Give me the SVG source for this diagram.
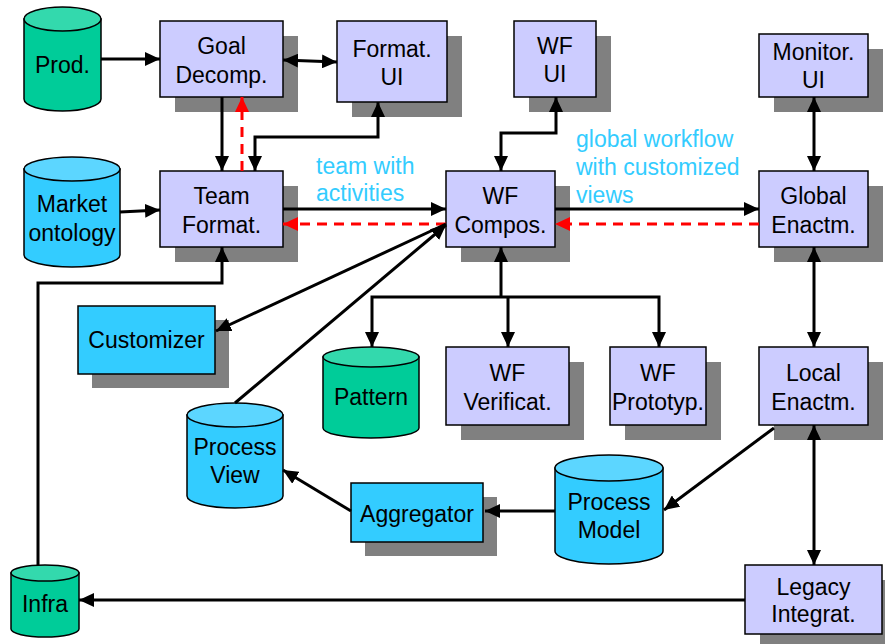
<svg xmlns="http://www.w3.org/2000/svg" width="885" height="644" viewBox="0 0 885 644">
  <defs>
    <style>
      .box { fill: #CCCCFF; stroke: #000; stroke-width: 1.5; }
      .blue { fill: #33CCFF; stroke: #000; stroke-width: 1.5; }
      .shadow { fill: #808080; }
      .cyl-green { fill: #00CC99; stroke: #000; stroke-width: 1.5; }
      .cyl-green-top { fill: #33D9AD; stroke: #000; stroke-width: 1.5; }
      .cyl-blue { fill: #33CCFF; stroke: #000; stroke-width: 1.5; }
      .cyl-blue-top { fill: #5CD6FF; stroke: #000; stroke-width: 1.5; }
      text { font-family: "Liberation Sans", Arial, sans-serif; font-size: 23px; fill: #000; }
      .c { text-anchor: middle; }
      .note { fill: #33CCFF; }
      .wire { fill: none; stroke: #000; stroke-width: 3; }
      .dash { fill: none; stroke: #FF0000; stroke-width: 3; stroke-dasharray: 10 7; }
    </style>
    <marker id="ah" markerUnits="userSpaceOnUse" markerWidth="15" markerHeight="14" refX="15" refY="7" orient="auto-start-reverse">
      <path d="M0,0 L15,7 L0,14 Z" fill="#000"/>
    </marker>
    <marker id="ahr" markerUnits="userSpaceOnUse" markerWidth="15" markerHeight="14" refX="15" refY="7" orient="auto-start-reverse">
      <path d="M0,0 L15,7 L0,14 Z" fill="#FF0000"/>
    </marker>
  </defs>

  <rect width="885" height="644" fill="#fff"/>

  <!-- stores (cylinders) -->
  <g id="prod">
    <path class="cyl-green" d="M24,19 V99 A38.5,12 0 0 0 101,99 V19 Z"/>
    <ellipse class="cyl-green-top" cx="62.5" cy="19" rx="38.5" ry="12"/>
    <text class="c" x="62.5" y="73">Prod.</text>
  </g>
  <g id="market">
    <path class="cyl-blue" d="M24,169 V255 A48,12 0 0 0 120,255 V169 Z"/>
    <ellipse class="cyl-blue-top" cx="72" cy="169" rx="48" ry="12"/>
    <text class="c" x="72" y="212">Market</text>
    <text class="c" x="72" y="241">ontology</text>
  </g>
  <g id="pattern">
    <path class="cyl-green" d="M323,357 V428 A48,10 0 0 0 419,428 V357 Z"/>
    <ellipse class="cyl-green-top" cx="371" cy="357" rx="48" ry="10"/>
    <text class="c" x="371" y="405">Pattern</text>
  </g>
  <g id="process-view">
    <path class="cyl-blue" d="M187,415 V496 A48,12 0 0 0 283,496 V415 Z"/>
    <ellipse class="cyl-blue-top" cx="235" cy="415" rx="48" ry="12"/>
    <text class="c" x="235" y="455">Process</text>
    <text class="c" x="235" y="483">View</text>
  </g>
  <g id="process-model">
    <path class="cyl-blue" d="M555,468 V551 A54,13 0 0 0 663,551 V468 Z"/>
    <ellipse class="cyl-blue-top" cx="609" cy="468" rx="54" ry="13"/>
    <text class="c" x="609" y="510">Process</text>
    <text class="c" x="609" y="538">Model</text>
  </g>
  <g id="infra">
    <path class="cyl-green" d="M11,573 V629 A34,8 0 0 0 79,629 V573 Z"/>
    <ellipse class="cyl-green-top" cx="45" cy="573" rx="34" ry="8"/>
    <text class="c" x="45" y="612">Infra</text>
  </g>

  <!-- components (boxes with drop shadows) -->
  <g id="goal-decomp">
    <rect class="shadow" x="175" y="36" width="123" height="76"/>
    <rect class="box" x="160" y="21" width="123" height="76"/>
    <text class="c" x="221.5" y="54">Goal</text>
    <text class="c" x="221.5" y="83">Decomp.</text>
  </g>
  <g id="format-ui">
    <rect class="shadow" x="352" y="36" width="110" height="81"/>
    <rect class="box" x="337" y="21" width="110" height="81"/>
    <text class="c" x="392" y="57">Format.</text>
    <text class="c" x="392" y="85">UI</text>
  </g>
  <g id="wf-ui">
    <rect class="shadow" x="529" y="36" width="82" height="76"/>
    <rect class="box" x="514" y="21" width="82" height="76"/>
    <text class="c" x="555" y="54">WF</text>
    <text class="c" x="555" y="82">UI</text>
  </g>
  <g id="monitor-ui">
    <rect class="shadow" x="774" y="49" width="109" height="63"/>
    <rect class="box" x="759" y="34" width="109" height="63"/>
    <text class="c" x="813.5" y="60">Monitor.</text>
    <text class="c" x="813.5" y="88">UI</text>
  </g>
  <g id="team-format">
    <rect class="shadow" x="175" y="186" width="123" height="76"/>
    <rect class="box" x="160" y="171" width="123" height="76"/>
    <text class="c" x="221.5" y="204">Team</text>
    <text class="c" x="221.5" y="233">Format.</text>
  </g>
  <g id="wf-compos">
    <rect class="shadow" x="461" y="186" width="109" height="76"/>
    <rect class="box" x="446" y="171" width="109" height="76"/>
    <text class="c" x="500.5" y="204">WF</text>
    <text class="c" x="500.5" y="233">Compos.</text>
  </g>
  <g id="global-enactm">
    <rect class="shadow" x="774" y="186" width="109" height="76"/>
    <rect class="box" x="759" y="171" width="109" height="76"/>
    <text class="c" x="813.5" y="204">Global</text>
    <text class="c" x="813.5" y="233">Enactm.</text>
  </g>
  <g id="customizer">
    <rect class="shadow" x="92" y="320" width="137" height="68"/>
    <rect class="blue" x="78" y="306" width="137" height="68"/>
    <text class="c" x="146.5" y="348">Customizer</text>
  </g>
  <g id="wf-verificat">
    <rect class="shadow" x="461" y="362" width="123" height="78"/>
    <rect class="box" x="446" y="347" width="123" height="78"/>
    <text class="c" x="507.5" y="381">WF</text>
    <text class="c" x="507.5" y="410">Verificat.</text>
  </g>
  <g id="wf-prototyp">
    <rect class="shadow" x="625" y="362" width="96" height="78"/>
    <rect class="box" x="610" y="347" width="96" height="78"/>
    <text class="c" x="658" y="381">WF</text>
    <text class="c" x="658" y="410">Prototyp.</text>
  </g>
  <g id="local-enactm">
    <rect class="shadow" x="774" y="362" width="109" height="78"/>
    <rect class="box" x="759" y="347" width="109" height="78"/>
    <text class="c" x="813.5" y="381">Local</text>
    <text class="c" x="813.5" y="410">Enactm.</text>
  </g>
  <g id="aggregator">
    <rect class="shadow" x="365" y="497" width="132" height="59"/>
    <rect class="blue" x="351" y="483" width="132" height="59"/>
    <text class="c" x="417" y="522">Aggregator</text>
  </g>
  <g id="legacy-integrat">
    <rect class="shadow" x="760" y="580" width="137" height="69"/>
    <rect class="box" x="745" y="565" width="137" height="69"/>
    <text class="c" x="813.5" y="595">Legacy</text>
    <text class="c" x="813.5" y="622">Integrat.</text>
  </g>

  <!-- connectors -->
  <g id="connectors">
    <path class="wire" d="M101,59 H160" marker-end="url(#ah)"/>
    <path class="wire" d="M283,60 L337,62" marker-start="url(#ah)" marker-end="url(#ah)"/>
    <path class="wire" d="M222,97 V171" marker-end="url(#ah)"/>
    <path class="dash" d="M242,171 V97" marker-end="url(#ahr)"/>
    <path class="wire" d="M255,171 V137 H378 V102" marker-start="url(#ah)" marker-end="url(#ah)"/>
    <path class="wire" d="M120,212 L160,210" marker-end="url(#ah)"/>
    <path class="wire" d="M283,209 H446" marker-end="url(#ah)"/>
    <path class="dash" d="M446,224 H283" marker-end="url(#ahr)"/>
    <path class="wire" d="M501,171 V133 H556 V97" marker-start="url(#ah)" marker-end="url(#ah)"/>
    <path class="wire" d="M555,209 H759" marker-end="url(#ah)"/>
    <path class="dash" d="M759,224 H555" marker-end="url(#ahr)"/>
    <path class="wire" d="M814,97 V171" marker-start="url(#ah)" marker-end="url(#ah)"/>
    <path class="wire" d="M814,247 V347" marker-start="url(#ah)" marker-end="url(#ah)"/>
    <path class="wire" d="M814,425 V565" marker-start="url(#ah)" marker-end="url(#ah)"/>
    <path class="wire" d="M774,428 L664,510" marker-end="url(#ah)"/>
    <path class="wire" d="M555,511 H485" marker-end="url(#ah)"/>
    <path class="wire" d="M351,511 L283,470" marker-end="url(#ah)"/>
    <path class="wire" d="M745,600 H79" marker-end="url(#ah)"/>
    <path class="wire" d="M38,565 V283 H222 V247" marker-end="url(#ah)"/>
    <path class="wire" d="M446,224 L216,331" marker-end="url(#ah)"/>
    <path class="wire" d="M235,403 L446,225" marker-end="url(#ah)"/>
    <path class="wire" d="M501,297 V247" marker-end="url(#ah)"/>
    <path class="wire" d="M372,347 V297 H659 V347" marker-start="url(#ah)" marker-end="url(#ah)"/>
    <path class="wire" d="M508,297 V347" marker-end="url(#ah)"/>
  </g>

  <!-- flow annotations -->
  <g id="labels">
    <text class="note" x="316" y="174">team with</text>
    <text class="note" x="316" y="201">activities</text>
    <text class="note" x="576" y="147">global workflow</text>
    <text class="note" x="576" y="175">with customized</text>
    <text class="note" x="576" y="203">views</text>
  </g>
</svg>
